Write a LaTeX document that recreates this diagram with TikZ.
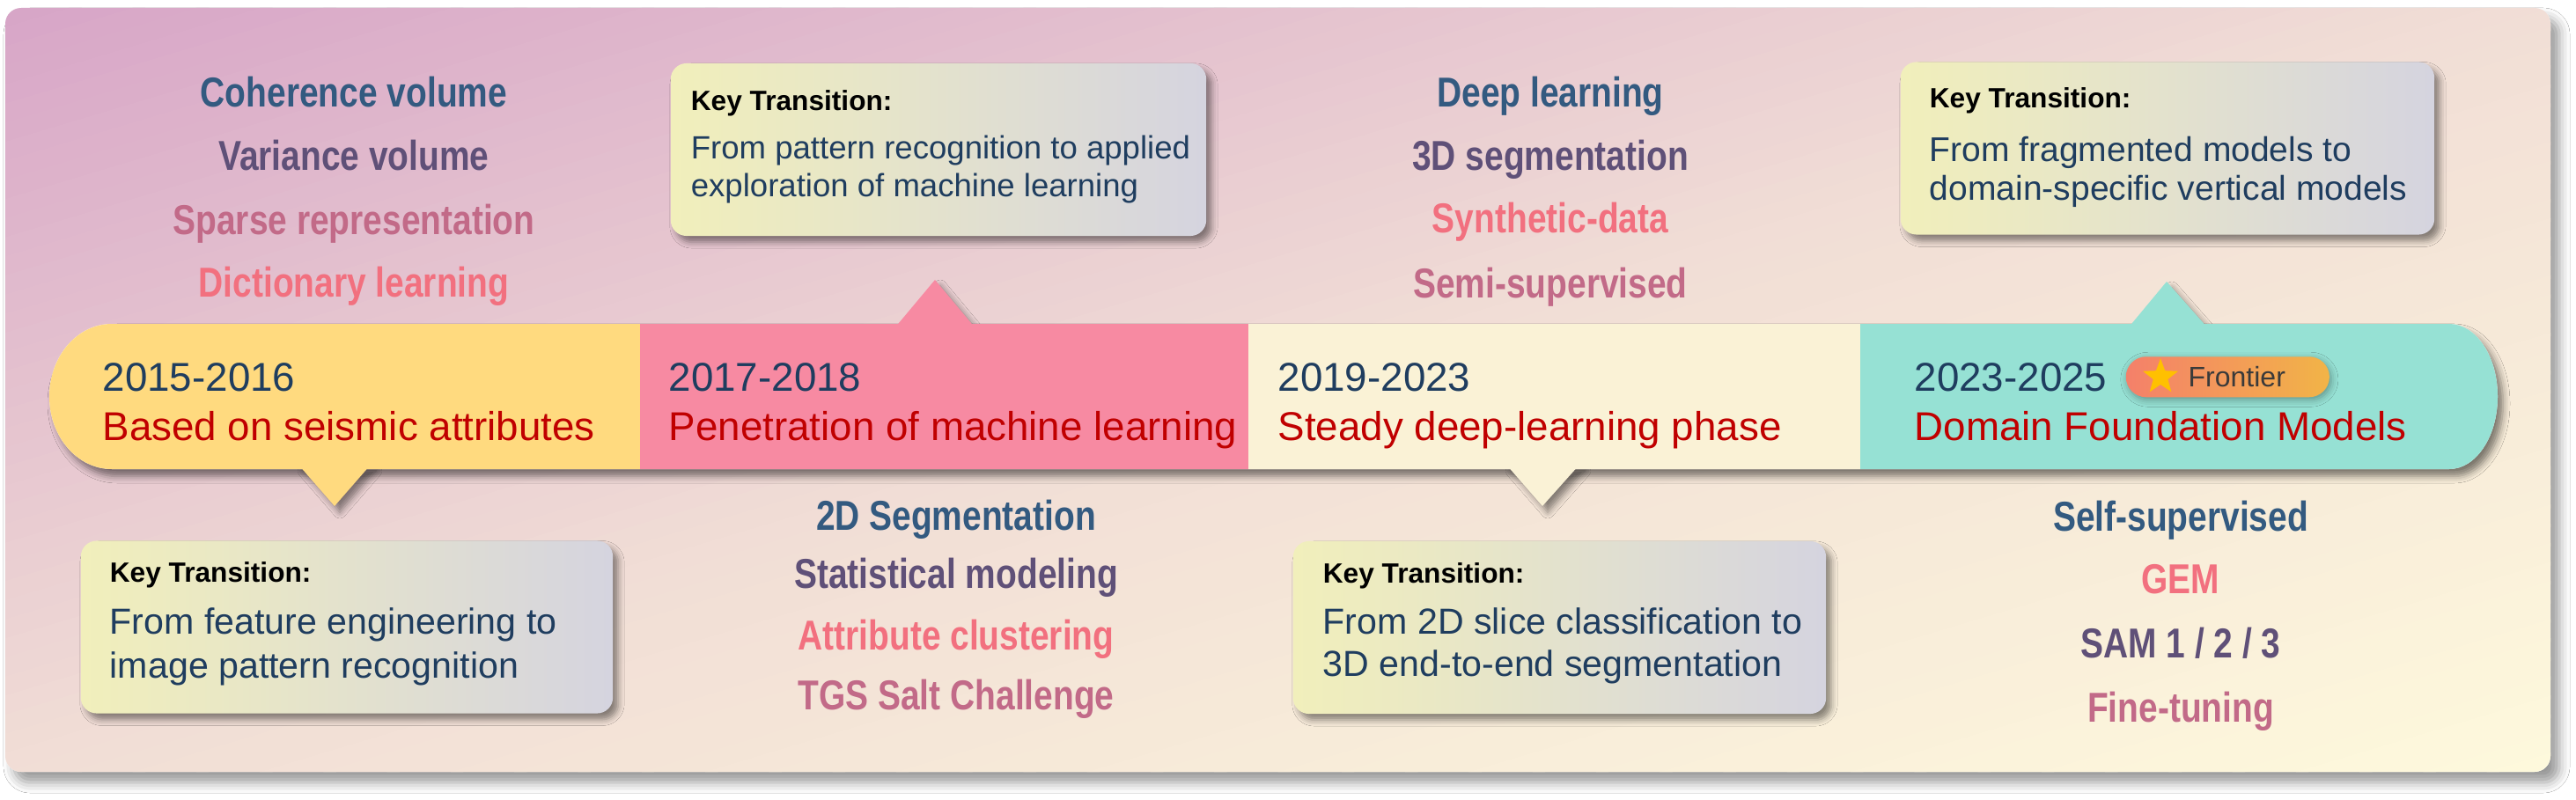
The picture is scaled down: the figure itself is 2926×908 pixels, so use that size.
\documentclass[tikz,border=0pt]{standalone}
\usepackage{fontspec}
\setmainfont{Liberation Sans}
\newfontfamily\kwfont[FakeStretch=0.82]{Liberation Sans}
\usepackage{xcolor}
\usepackage{tikz}
\usetikzlibrary{positioning,shapes.geometric,shadows.blur}

\definecolor{bgtop}{HTML}{D7A5C7}
\definecolor{bgmid}{HTML}{F1DED6}
\definecolor{bgbot}{HTML}{FEF9DC}
\definecolor{bandyellow}{HTML}{FFDA7F}
\definecolor{bandpink}{HTML}{F78AA2}
\definecolor{bandcream}{HTML}{FAF2D6}
\definecolor{bandteal}{HTML}{96E1D4}
\definecolor{yearnavy}{HTML}{1F3D5F}
\definecolor{phasered}{HTML}{C00000}
\definecolor{kwblue}{HTML}{335A80}
\definecolor{kwpurple}{HTML}{5F5078}
\definecolor{kwsalmon}{HTML}{F2707F}
\definecolor{kwmauve}{HTML}{C26A88}
\definecolor{ktleft}{HTML}{F1EFBB}
\definecolor{ktright}{HTML}{D5D4DF}
\definecolor{pillleft}{HTML}{F4806A}
\definecolor{pillright}{HTML}{F2B447}
\definecolor{staryellow}{HTML}{FFC000}
\definecolor{pillink}{HTML}{3A3A3A}

\begin{document}
\begin{tikzpicture}[
  x=0.01cm, y=0.01cm,
  kw/.style={anchor=base,inner sep=0pt,font=\kwfont\bfseries\fontsize{13.5}{16}\selectfont},
  yeartxt/.style={anchor=base west,inner sep=0pt,text=yearnavy,font=\fontsize{13}{15}\selectfont},
  phasetxt/.style={anchor=base west,inner sep=0pt,text=phasered,font=\fontsize{13}{15}\selectfont},
  softshadow/.style={blur shadow={shadow xshift=0.06cm,shadow yshift=-0.07cm,
              shadow blur radius=0.07cm,shadow opacity=45}},
  ktbox/.style={rounded corners=0.18cm,left color=ktleft,right color=ktright,
              minimum height=1.96cm,inner sep=0pt,softshadow},
  kttext/.style={anchor=west,align=left,inner sep=0pt,text=yearnavy},
  pill/.style={minimum width=2.31cm,minimum height=0.46cm,rounded corners=0.23cm,
              left color=pillleft,right color=pillright,inner sep=0pt,
              blur shadow={shadow xshift=0.02cm,shadow yshift=-0.03cm,
              shadow blur radius=0.08cm,shadow opacity=35}},
  starmark/.style={star,star points=5,star point ratio=2.4,fill=staryellow,
              minimum size=0.42cm,inner sep=0pt},
  fronttxt/.style={inner sep=0pt,text=pillink,font=\fontsize{9.1}{11}\selectfont}
]
\useasboundingbox (0,0) rectangle (2926,908);
\fill[white] (0,0) rectangle (2926,908);

% background panel, diagonal gradient in strips
\fill[white,rounded corners=0.18cm,blur shadow={shadow xshift=0.1cm,shadow yshift=-0.12cm,
  shadow blur radius=0.12cm,shadow opacity=40}] (6,31) rectangle (2897,899);
\begin{scope}
  \clip[rounded corners=0.18cm] (6,31) rectangle (2897,899);
  \foreach \i in {0,...,39}{
    \pgfmathsetmacro\ta{-1+\i/40}
    \pgfmathsetmacro\pc{(\i+0.5)*2.5}
    \fill[bgmid!\pc!bgtop] ({6+\ta*2891},31) -- ({6+(\ta+0.03)*2891},31)
      -- ({6+(\ta+1.03)*2891},899) -- ({6+(\ta+1)*2891},899) -- cycle;
  }
  \foreach \i in {40,...,79}{
    \pgfmathsetmacro\ta{-1+\i/40}
    \pgfmathsetmacro\pc{(\i-39.5)*2.5}
    \fill[bgbot!\pc!bgmid] ({6+\ta*2891},31) -- ({6+(\ta+0.03)*2891},31)
      -- ({6+(\ta+1.03)*2891},899) -- ({6+(\ta+1)*2891},899) -- cycle;
  }
\end{scope}

% timeline band
\fill[white,blur shadow={shadow xshift=0.06cm,shadow yshift=-0.08cm,
  shadow blur radius=0.08cm,shadow opacity=50}]
  (2782,540) -- (127,540) arc[start angle=90,end angle=270,x radius=71,y radius=82.5]
  -- (2782,375) arc[start angle=-90,end angle=90,x radius=55,y radius=82.5] -- cycle;

% pointers
\fill[bandyellow,softshadow] (339,380) -- (380,333) -- (421,380) -- cycle;
\fill[bandpink,softshadow] (1016,535) -- (1062,590) -- (1108,535) -- cycle;
\fill[bandcream,softshadow] (1711,380) -- (1752,333) -- (1794,380) -- cycle;
\fill[bandteal,softshadow] (2417,535) -- (2461,588) -- (2508,535) -- cycle;

\begin{scope}
  \clip (2782,540) -- (127,540) arc[start angle=90,end angle=270,x radius=71,y radius=82.5]
    -- (2782,375) arc[start angle=-90,end angle=90,x radius=55,y radius=82.5] -- cycle;
  \fill[bandyellow] (0,300) rectangle (727,600);
  \fill[bandpink] (727,300) rectangle (1418,600);
  \fill[bandcream] (1418,300) rectangle (2113,600);
  \fill[bandteal] (2113,300) rectangle (2926,600);
\end{scope}

% periods
\node[yeartxt] (yr1) at (116,464) {2015-2016};
\node[phasetxt] (ph1) at (116,408) {Based on seismic attributes};
\node[yeartxt] (yr2) at (759,464) {2017-2018};
\node[phasetxt] (ph2) at (759,408) {Penetration of machine learning};
\node[yeartxt] (yr3) at (1451,464) {2019-2023};
\node[phasetxt] (ph3) at (1451,408) {Steady deep-learning phase};
\node[yeartxt] (yr4) at (2174,464) {2023-2025};
\node[phasetxt] (ph4) at (2174,408) {Domain Foundation Models};

% frontier badge
\node[pill,right=0.2cm of yr4] (front) {};
\node[starmark] (star) at ([xshift=0.4cm]front.west) {};
\node[fronttxt,right=0.18cm of star] (frontlbl) {Frontier};

% keywords
\node[kw,text=kwblue] (kwa1) at (402,787) {Coherence volume};
\node[kw,text=kwpurple] (kwa2) at (402,715) {Variance volume};
\node[kw,text=kwmauve] (kwa3) at (402,642) {Sparse representation};
\node[kw,text=kwsalmon] (kwa4) at (402,571) {Dictionary learning};

\node[kw,text=kwblue] (kwb1) at (1086,306) {2D Segmentation};
\node[kw,text=kwpurple] (kwb2) at (1086,240) {Statistical modeling};
\node[kw,text=kwsalmon] (kwb3) at (1086,170) {Attribute clustering};
\node[kw,text=kwmauve] (kwb4) at (1086,102) {TGS Salt Challenge};

\node[kw,text=kwblue] (kwc1) at (1761,787) {Deep learning};
\node[kw,text=kwpurple] (kwc2) at (1761,715) {3D segmentation};
\node[kw,text=kwsalmon] (kwc3) at (1761,644) {Synthetic-data};
\node[kw,text=kwmauve] (kwc4) at (1761,570) {Semi-supervised};

\node[kw,text=kwblue] (kwd1) at (2477,305) {Self-supervised};
\node[kw,text=kwsalmon] (kwd2) at (2477,234) {GEM};
\node[kw,text=kwpurple] (kwd3) at (2477,161) {SAM 1 / 2 / 3};
\node[kw,text=kwmauve] (kwd4) at (2477,88) {Fine-tuning};

% key transitions
\node[ktbox,minimum width=6.04cm] (kt1) at (394,195.5) {};
\node[kttext,font=\fontsize{11.7}{14.2}\selectfont] (kt1txt) at ([xshift=0.33cm,yshift=0.04cm]kt1.west)
  {{\fontsize{9}{11}\selectfont\bfseries\color{black}Key Transition:}\\[0.09cm]
   From feature engineering to\\image pattern recognition};

\node[ktbox,minimum width=6.08cm] (kt2) at (1066,738) {};
\node[kttext,font=\fontsize{10.4}{12.2}\selectfont] (kt2txt) at ([xshift=0.23cm,yshift=0.03cm]kt2.west)
  {{\fontsize{9}{11}\selectfont\bfseries\color{black}Key Transition:}\\[0.12cm]
   From pattern recognition to applied\\exploration of machine learning};

\node[ktbox,minimum width=6.05cm] (kt3) at (1771.5,195) {};
\node[kttext,font=\fontsize{11.7}{13.7}\selectfont] (kt3txt) at ([xshift=0.34cm,yshift=0.05cm]kt3.west)
  {{\fontsize{9}{11}\selectfont\bfseries\color{black}Key Transition:}\\[0.1cm]
   From 2D slice classification to\\3D end-to-end segmentation};

\node[ktbox,minimum width=6.06cm] (kt4) at (2462,739.5) {};
\node[kttext,font=\fontsize{11.1}{12.5}\selectfont] (kt4txt) at ([xshift=0.33cm,yshift=0.01cm]kt4.west)
  {{\fontsize{9}{11}\selectfont\bfseries\color{black}Key Transition:}\\[0.17cm]
   From fragmented models to\\domain-specific vertical models};
\end{tikzpicture}
\end{document}
